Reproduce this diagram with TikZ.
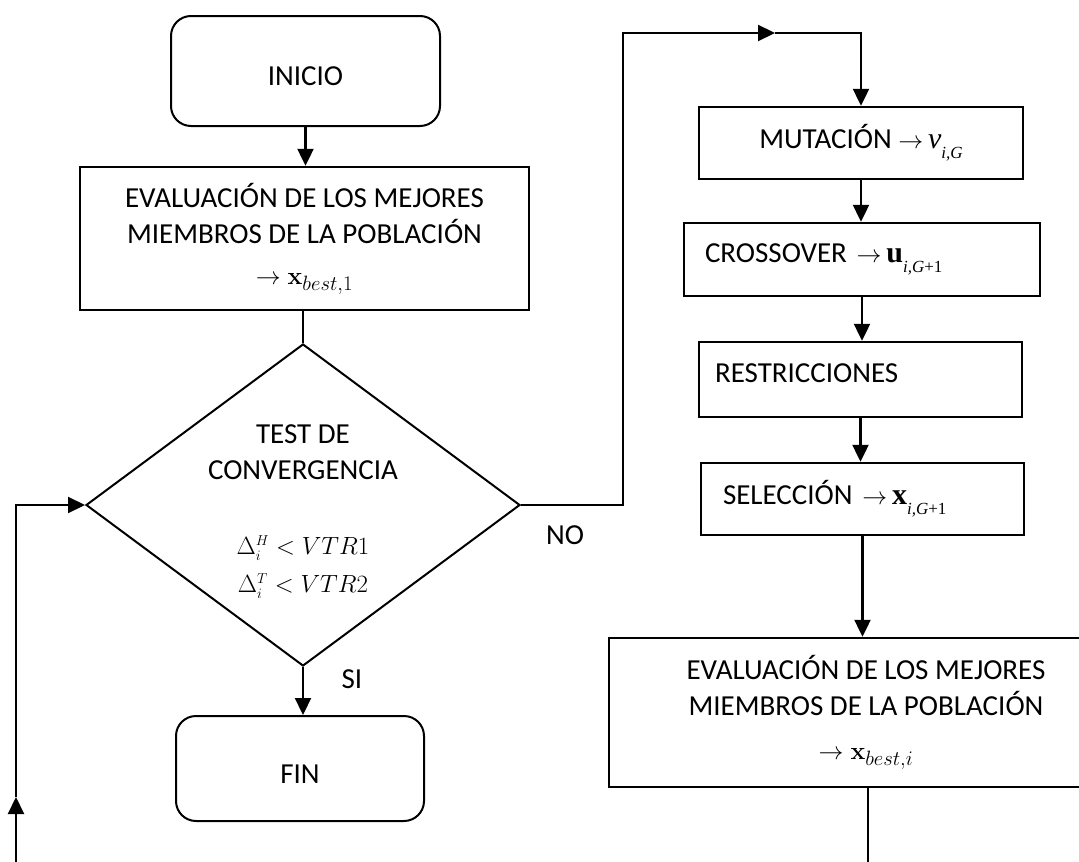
\documentclass[tikz,border=0pt]{standalone}
\usepackage[no-math]{fontspec}
\setmainfont{Carlito}
\newfontfamily\tnr{Liberation Serif}
\usetikzlibrary{arrows.meta,shapes.geometric}

%% variable en Times con subindice
\newcommand\varsol[3]{{\tnr\fontsize{30}{30}\selectfont#1#2}\raisebox{-10pt}{\tnr\fontsize{17}{17}\selectfont#3}}

\tikzset{
  every node/.style={font=\fontsize{29}{36}\selectfont},
  terminal/.style={draw, rounded corners=20pt, line width=2pt, text height=30pt},
  proceso/.style={draw, line width=2.4pt, inner sep=0pt, align=center},
  decision/.style={draw, diamond, line width=2pt, inner sep=0pt, minimum width=434pt, minimum height=322pt},
  flecha/.style={line width=2.2pt, -{Triangle[length=17pt,width=16pt]}},
  linea/.style={line width=2.2pt}
}

\begin{document}
\begin{tikzpicture}[x=1pt,y=-1pt]
  \useasboundingbox (0,0) rectangle (1079,862);
  \clip (0,0) rectangle (1079,862);
  %% inicio
  \node[terminal, minimum width=269pt, minimum height=110pt] (inicio) at (305.5,71) {INICIO};
  %% evaluacion inicial
  \node[proceso, minimum width=449pt, minimum height=143pt] (eval1) at (304.5,238.5)
    {EVALUACIÓN DE LOS MEJORES\\MIEMBROS DE LA POBLACIÓN\\[5pt]$\rightarrow \mathbf{x}_{best,1}$};
  %% test de convergencia
  \node[decision] (test) at (303,505) {};
  \node[align=center] (testlbl) at (303,452) {TEST DE\\CONVERGENCIA};
  \node[align=center] (cond) at (303,567)
    {$\Delta^{\scriptscriptstyle H}_{\scriptscriptstyle i} < VTR1$\\[2pt]$\Delta^{\scriptscriptstyle T}_{\scriptscriptstyle i} < VTR2$};
  \node[anchor=west] (si) at (338,679) {SI};
  \node (no) at (565,535) {NO};
  %% fin
  \node[terminal, minimum width=248pt, minimum height=105pt] (fin) at (300,768.5) {FIN};
  %% bucle de evolucion
  \node[proceso, minimum width=324pt, minimum height=72pt] (mut) at (861,143)
    {MUTACIÓN $\rightarrow$\,\varsol{\itshape}{v}{\itshape i,G}};
  \node[proceso, align=left, text width=314pt, inner xsep=21pt, minimum height=73pt] (cross) at (862,259.5)
    {CROSSOVER $\rightarrow$\,\varsol{\bfseries}{u}{\itshape i,G\upshape+1}};
  \node[proceso, align=left, text width=291pt, inner xsep=16pt, minimum height=75pt, text depth=12pt] (restr) at (860.5,379.5)
    {RESTRICCIONES};
  \node[proceso, align=left, text width=279pt, inner xsep=22pt, minimum height=72pt] (sel) at (862.5,499)
    {SELECCIÓN $\rightarrow$\,\varsol{\bfseries}{x}{\itshape i,G\upshape+1}};
  \node[proceso, minimum width=514pt, minimum height=149pt] (eval2) at (866,712.5)
    {EVALUACIÓN DE LOS MEJORES\\MIEMBROS DE LA POBLACIÓN\\[8pt]$\rightarrow \mathbf{x}_{best,i}$};

  %% flechas columna izquierda
  \draw[flecha] (inicio.south) -- (inicio.south |- eval1.north);
  \draw[linea] (test.north |- eval1.south) -- (test.north);
  \draw[flecha] (test.south) -- (test.south |- fin.north);
  %% rama NO
  \coordinate (noesq) at (623,33);
  \coordinate (nomed) at (775,33);
  \draw[flecha] (test.east) -| (noesq) -- (nomed);
  \draw[flecha] (nomed) -| (mut.north);
  %% flechas columna derecha
  \draw[flecha] (mut.south) -- (mut.south |- cross.north);
  \draw[flecha] (cross.south) -- (cross.south |- restr.north);
  \draw[flecha] (restr.south) -- (restr.south |- sel.north);
  \draw[flecha] (sel.south) -- (sel.south |- eval2.north);
  \coordinate (salida) at (868,862);
  \draw[linea] (salida |- eval2.south) -- (salida);
  %% retorno al test
  \coordinate (retbajo) at (16,862);
  \coordinate (retmed) at (16,797);
  \draw[flecha] (retbajo) -- (retmed);
  \draw[flecha] (retmed) |- (test.west);
\end{tikzpicture}
\end{document}
